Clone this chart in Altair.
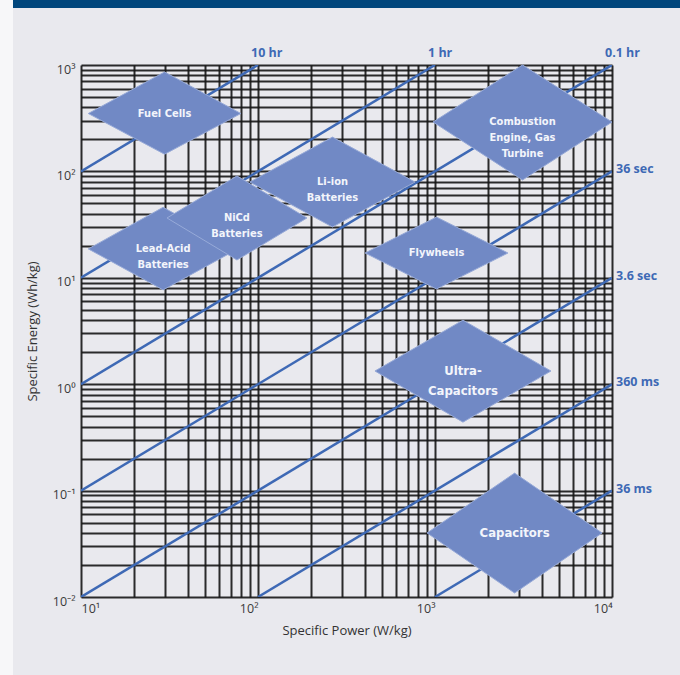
import math
import altair as alt
import pandas as pd

# ---------------- data ----------------
P_MIN, P_MAX = 10, 10000          # Specific Power (W/kg)
E_MIN, E_MAX = 0.01, 1000         # Specific Energy (Wh/kg)

# discharge time constants (hours) and their labels
tc_hours = [10, 1, 0.1, 0.01, 0.001, 0.0001, 0.00001]
tc_labels = ["10 hr", "1 hr", "0.1 hr", "36 sec", "3.6 sec", "360 ms", "36 ms"]

# technology regions (diamonds)
dia_names = ["Fuel Cells", "Lead-Acid", "NiCd", "Li-ion", "Combustion",
             "Flywheels", "Ultra-Capacitors", "Capacitors"]
dia_text = ["Fuel Cells", "Lead-Acid\nBatteries", "NiCd\nBatteries",
            "Li-ion\nBatteries", "Combustion\nEngine, Gas\nTurbine",
            "Flywheels", "Ultra-\nCapacitors", "Capacitors"]
dia_p_left = [11, 11, 30.6, 90, 975, 403, 458, 902]
dia_p_right = [80, 77, 189, 771, 10000, 2582, 4520, 8790]
dia_e_mid = [350, 18.7, 36.5, 79.4, 291, 17.1, 1.33, 0.04]
dia_e_top = [860, 46, 90.6, 210, 1000, 37.2, 4.0, 0.146]
dia_e_bot = [145, 7.7, 14.7, 30, 83, 7.85, 0.44, 0.0109]

# axis tick values and labels
x_decades = [10, 100, 1000, 10000]
x_dec_labels = ["10¹", "10²", "10³", "10⁴"]
y_decades = [0.01, 0.1, 1, 10, 100, 1000]
y_dec_labels = ["10⁻²", "10⁻¹", "10⁰", "10¹", "10²", "10³"]

# ---------------- tables ----------------
def minor_values(decades):
    vals = []
    for d in decades[:-1]:
        for k in range(1, 10):
            vals.append(round(k * d, 6))
    vals.append(decades[-1])
    return vals

x_vals = minor_values(x_decades)
y_vals = minor_values(y_decades)

def label_expr(decades, labels):
    expr = "''"
    for d, l in reversed(list(zip(decades, labels))):
        expr = f"datum.value == {d} ? '{l}' : ({expr})"
    return expr

line_rows, label_rows = [], []
for t, lab in zip(tc_hours, tc_labels):
    p0 = max(P_MIN, E_MIN / t)
    p1 = min(P_MAX, E_MAX / t)
    e0, e1 = p0 * t, p1 * t
    line_rows += [{"tc": lab, "P": p0, "E": e0}, {"tc": lab, "P": p1, "E": e1}]
    top = e1 >= E_MAX * 0.999
    label_rows.append({"tc": lab, "P": p1, "E": e1, "pos": "top" if top else "right"})
lines_df = pd.DataFrame(line_rows)
tlab_df = pd.DataFrame(label_rows)

dia_rows, dia_lab_rows = [], []
for i, name in enumerate(dia_names):
    pc = math.sqrt(dia_p_left[i] * dia_p_right[i])
    dia_rows += [
        {"id": i, "name": name, "P": dia_p_left[i], "Et": dia_e_mid[i], "Eb": dia_e_mid[i]},
        {"id": i, "name": name, "P": pc, "Et": dia_e_top[i], "Eb": dia_e_bot[i]},
        {"id": i, "name": name, "P": dia_p_right[i], "Et": dia_e_mid[i], "Eb": dia_e_mid[i]},
    ]
    dia_lab_rows.append({"name": name, "text": dia_text[i], "P": pc, "E": dia_e_mid[i]})
dia_df = pd.DataFrame(dia_rows)
dia_lab_df = pd.DataFrame(dia_lab_rows)

# ---------------- styles ----------------
W, H = 531, 532
PAD_L, PAD_T = 81, 65
TOTAL_W, TOTAL_H = 680, 675
BG = "#e9e9ee"
NAVY = "#00467c"
LINE_BLUE = "#3e69b5"
DIA_FILL = "#7189c5"
DIA_STROKE = "#97aad8"
AX_FONT = "Open Sans"
DIA_FONT = "DejaVu Sans Condensed, Roboto, sans-serif"

xscale = alt.Scale(type="log", domain=[P_MIN, P_MAX], nice=False)
yscale = alt.Scale(type="log", domain=[E_MIN, E_MAX], nice=False)

xaxis = alt.Axis(
    values=x_vals, labelExpr=label_expr(x_decades, x_dec_labels),
    grid=True, gridColor="#151515", gridWidth=2, gridOpacity=0.9,
    ticks=False, domain=False, labelOverlap=False, labelFlush=False,
    labelAlign={"condition": {"test": "datum.value <= 10", "value": "left"}, "value": "right"},
    labelFont=AX_FONT, labelFontSize=12.5, labelColor="#3a3a3a", labelPadding=5,
    title="Specific Power (W/kg)", titleFont=AX_FONT, titleFontSize=13,
    titleFontWeight="normal", titleColor="#333333", titleY=33, titleBaseline="middle",
)
yaxis = alt.Axis(
    values=y_vals, labelExpr=label_expr(y_decades, y_dec_labels),
    grid=True, gridColor="#151515", gridWidth=2, gridOpacity=0.9,
    ticks=False, domain=False, labelOverlap=False, labelFlush=False,
    labelFont=AX_FONT, labelFontSize=12.5, labelColor="#3a3a3a", labelPadding=6,
    labelOffset=4,
    title="Specific Energy (Wh/kg)", titleFont=AX_FONT, titleFontSize=13,
    titleFontWeight="normal", titleColor="#333333", titleX=-49, titleBaseline="middle",
)

dummy = alt.Data(values=[{"a": 1}])

white_strip = alt.Chart(dummy).mark_rect(color="#f7f7f9").encode(
    x=alt.value(-PAD_L), x2=alt.value(-PAD_L + 13),
    y=alt.value(-PAD_T), y2=alt.value(TOTAL_H - PAD_T),
)
band = alt.Chart(dummy).mark_rect(color=NAVY).encode(
    x=alt.value(-PAD_L + 13), x2=alt.value(TOTAL_W - PAD_L),
    y=alt.value(-PAD_T), y2=alt.value(-PAD_T + 8),
)

grid_base = alt.Chart(lines_df).mark_line(color=LINE_BLUE, strokeWidth=2.5, clip=True).encode(
    x=alt.X("P:Q", scale=xscale, axis=xaxis),
    y=alt.Y("E:Q", scale=yscale, axis=yaxis),
    detail="tc:N",
)

top_labels = alt.Chart(tlab_df).transform_filter("datum.pos == 'top'").mark_text(
    align="left", baseline="middle", dx=-7, dy=-12, font=AX_FONT, fontWeight="bold",
    fontSize=12.5, color=LINE_BLUE,
).encode(x=alt.X("P:Q", scale=xscale), y=alt.Y("E:Q", scale=yscale), text="tc:N")

right_labels = alt.Chart(tlab_df).transform_filter("datum.pos == 'right'").mark_text(
    align="left", baseline="middle", dx=4, dy=-2, font=AX_FONT, fontWeight="bold",
    fontSize=12.5, color=LINE_BLUE,
).encode(x=alt.X("P:Q", scale=xscale), y=alt.Y("E:Q", scale=yscale), text="tc:N")

diamonds = alt.Chart(dia_df).mark_area(
    color=DIA_FILL, stroke=DIA_STROKE, strokeWidth=1, opacity=1, orient="vertical",
).encode(
    x=alt.X("P:Q", scale=xscale),
    y=alt.Y("Et:Q", scale=yscale),
    y2="Eb:Q",
    detail="id:O",
    order="id:O",
)

big_names = ["Ultra-Capacitors", "Capacitors"]
small_lab = alt.Chart(dia_lab_df).transform_filter(
    alt.FieldOneOfPredicate(field="name", oneOf=dia_names[:6])
).mark_text(
    font=DIA_FONT, fontWeight="bold", fontSize=11, lineHeight=16, color="#f3f5fb",
    lineBreak="\n", align="center", baseline="middle",
).encode(x=alt.X("P:Q", scale=xscale), y=alt.Y("E:Q", scale=yscale), text="text:N")

big_lab = alt.Chart(dia_lab_df).transform_filter(
    alt.FieldOneOfPredicate(field="name", oneOf=big_names)
).mark_text(
    font=DIA_FONT, fontWeight="bold", fontSize=13, lineHeight=20, color="#f3f5fb",
    lineBreak="\n", align="center", baseline="middle",
).encode(x=alt.X("P:Q", scale=xscale), y=alt.Y("E:Q", scale=yscale), text="text:N")

chart = alt.layer(
    white_strip, band, grid_base, diamonds, small_lab, big_lab, top_labels, right_labels
).properties(
    width=W, height=H,
    background=BG,
    padding={"left": PAD_L, "top": PAD_T, "right": TOTAL_W - PAD_L - W, "bottom": TOTAL_H - PAD_T - H},
    autosize=alt.AutoSizeParams(type="none"),
).configure_view(stroke=None)

chart.save("out.html", embed_options={"renderer": "svg", "actions": False})
